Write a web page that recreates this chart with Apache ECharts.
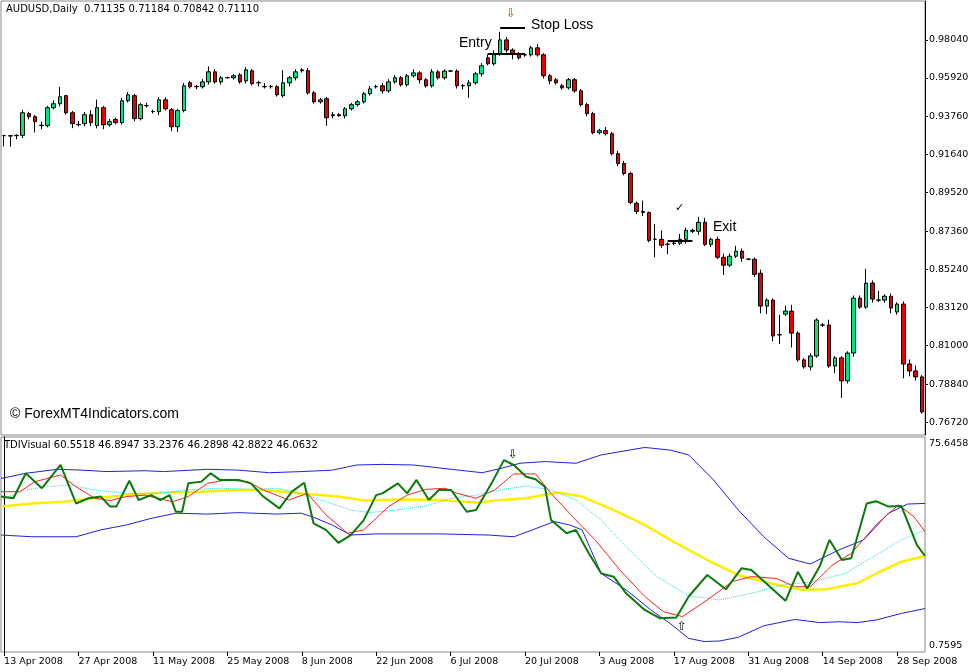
<!DOCTYPE html>
<html>
<head>
<meta charset="utf-8">
<script src="https://cdn.jsdelivr.net/npm/echarts@6/dist/echarts.min.js"></script>
<style>html,body{margin:0;padding:0;background:#fff}#chart{width:977px;height:672px}</style>
</head>
<body>
<div id="chart"></div>
<script>
// AUDUSD daily candles, 13 Apr 2008 .. 1 Oct 2008 (Sunday bars, no Saturday)
const opens = [
0.9270,0.9270,0.9270,0.9272,0.9393,0.9376,0.9328,0.9326,0.9426,0.9448,
0.9493,0.9398,0.9332,0.9337,0.9387,0.9326,0.9426,0.9331,0.9360,0.9343,
0.9465,0.9493,0.9365,0.9438,0.9405,0.9404,0.9470,0.9415,0.9320,0.9410,
0.9565,0.9544,0.9543,0.9570,0.9626,0.9570,0.9594,0.9593,0.9609,0.9576,
0.9632,0.9566,0.9544,0.9544,0.9543,0.9493,0.9565,0.9593,0.9632,0.9632,
0.9509,0.9459,0.9476,0.9381,0.9387,0.9381,0.9420,0.9443,0.9459,0.9504,
0.9544,0.9548,0.9520,0.9570,0.9593,0.9554,0.9604,0.9620,0.9582,0.9548,
0.9626,0.9593,0.9631,0.9630,0.9549,0.9548,0.9565,0.9615,0.9704,0.9671,
0.9726,0.9804,0.9748,0.9726,0.9720,0.9721,0.9760,0.9721,0.9604,0.9582,
0.9548,0.9537,0.9582,0.9520,0.9443,0.9393,0.9287,0.9298,0.9281,0.9170,
0.9115,0.9059,0.8893,0.8848,0.8842,0.8693,0.8692,0.8665,0.8671,0.8670,
0.8692,0.8742,0.8737,0.8787,0.8664,0.8692,0.8592,0.8548,0.8598,0.8626,
0.8582,0.8581,0.8503,0.8320,0.8353,0.8160,0.8275,0.8292,0.8169,0.8020,
0.7981,0.8042,0.8215,0.8214,0.7986,0.8031,0.7903,0.8058,0.8364,0.8314,
0.8448,0.8354,0.8353,0.8375,0.8287,0.8331,0.7997,0.7958,0.7925];
const closes = [
0.9270,0.9268,0.9272,0.9398,0.9376,0.9348,0.9326,0.9426,0.9448,0.9487,
0.9398,0.9337,0.9331,0.9387,0.9343,0.9426,0.9331,0.9348,0.9343,0.9465,
0.9498,0.9365,0.9443,0.9437,0.9404,0.9470,0.9420,0.9320,0.9410,0.9548,
0.9543,0.9543,0.9570,0.9626,0.9570,0.9593,0.9593,0.9604,0.9570,0.9637,
0.9560,0.9565,0.9543,0.9543,0.9498,0.9565,0.9593,0.9626,0.9637,0.9509,
0.9459,0.9470,0.9370,0.9387,0.9381,0.9420,0.9443,0.9459,0.9504,0.9531,
0.9543,0.9520,0.9570,0.9593,0.9554,0.9604,0.9620,0.9582,0.9548,0.9626,
0.9593,0.9630,0.9630,0.9548,0.9548,0.9565,0.9615,0.9660,0.9671,0.9726,
0.9804,0.9748,0.9726,0.9704,0.9721,0.9760,0.9721,0.9604,0.9576,0.9565,
0.9537,0.9582,0.9520,0.9443,0.9393,0.9287,0.9298,0.9281,0.9170,0.9115,
0.9059,0.8898,0.8848,0.8842,0.8686,0.8692,0.8659,0.8664,0.8670,0.8692,
0.8742,0.8737,0.8787,0.8664,0.8692,0.8592,0.8548,0.8598,0.8626,0.8587,
0.8581,0.8497,0.8320,0.8353,0.8153,0.8159,0.8292,0.8169,0.8020,0.7981,
0.8042,0.8242,0.8214,0.7986,0.8031,0.7903,0.8058,0.8364,0.8314,0.8448,
0.8359,0.8353,0.8375,0.8309,0.8331,0.7997,0.7958,0.7925,0.7730];
// wick lengths above / below the body, in pips
const wickUp = [
5,5,5,15,10,10,20,10,20,55, 5,10,20,15,25,45,10,15,10,15,
15,10,10,15,10,15,15,10,10,15, 10,10,15,30,15,10,5,10,10,15,
10,10,20,10,10,70,10,15,10,15, 10,10,10,15,10,10,10,10,10,15,
10,15,15,15,10,10,20,10,10,15, 10,10,5,10,10,15,10,15,20,20,
45,15,10,10,10,10,20,10,10,10, 10,10,10,10,10,10,10,20,10,15,
15,10,10,60,5,85,50,10,10,30, 15,10,30,25,10,15,20,15,30,15,
5,10,20,10,10,110,30,35,10,10, 15,10,10,30,10,10,10,15,15,80,
15,50,10,15,10,15,25,30,10];
const wickDn = [
60,60,20,15,15,60,20,10,10,15, 10,25,10,15,20,15,25,10,10,10,
10,15,10,10,10,20,10,25,30,10, 10,15,10,15,10,15,5,10,10,15,
10,20,10,10,10,10,20,15,10,10, 10,10,45,15,5,15,10,10,10,10,
10,15,10,10,10,10,10,20,10,10, 10,10,5,15,20,67,10,15,10,10,
10,15,30,10,10,10,10,15,20,10, 10,10,10,10,15,10,10,10,10,15,
10,10,15,20,10,100,15,55,10,10, 25,10,20,10,15,10,55,10,10,20,
5,15,40,45,30,50,10,80,10,10, 20,10,10,10,40,95,15,20,10,10,
20,10,15,30,15,80,30,20,10];
const priceTicks = [0.98040,0.95920,0.93760,0.91640,0.89520,0.87360,0.85240,0.83120,0.81000,0.78840,0.76720];

// TDI lines as [bar index, value]
const rsiGreen = [[-0.5,54.9],[1.5,54.3],[3.5,63.0],[6.1,57.8],[9.1,65.9],[11.6,52.5],[13.6,54.3],[15.6,54.9],[17.1,51.4],[18.1,51.4],[20.2,60.4],[21.7,53.7],[23.7,55.4],[25.2,53.7],[26.7,55.4],[27.7,49.6],[28.7,49.6],[29.7,59.5],[31.8,60.1],[33.3,63.0],[34.8,60.7],[37.8,60.7],[39.8,59.5],[41.8,54.9],[44.4,50.8],[46.4,56.6],[48.4,59.7],[49.9,45.6],[51.9,43.3],[53.9,38.8],[55.9,41.5],[58.0,46.7],[60.0,55.4],[61.0,56.0],[63.5,59.5],[65.0,56.0],[66.5,60.7],[68.5,53.7],[70.1,57.2],[72.1,57.2],[74.6,49.6],[76.1,50.2],[78.6,59.5],[80.6,67.6],[82.2,65.9],[84.2,61.8],[85.7,60.9],[87.2,58.3],[88.2,46.7],[90.7,42.1],[92.2,43.3],[94.3,35.1],[96.3,28.1],[98.3,27.0],[100.3,21.2],[103.3,15.4],[105.8,12.5],[108.4,12.8],[110.4,20.1],[113.4,27.6],[116.4,22.6],[118.9,29.9],[120.5,29.3],[123.5,23.5],[126.0,18.6],[128.0,28.7],[129.5,22.9],[131.5,30.5],[133.1,39.8],[135.1,32.8],[136.6,33.4],[139.1,52.5],[140.6,53.3],[142.6,51.4],[144.7,51.6],[147.2,38.0],[148.5,34.2]];
const signalRed = [[-0.5,56.6],[2.5,56.6],[5.0,60.1],[9.1,62.4],[11.6,58.3],[14.6,54.3],[17.1,53.5],[19.7,54.9],[22.7,55.4],[24.7,54.3],[27.2,53.1],[29.7,54.9],[32.8,59.5],[35.8,60.7],[39.3,60.1],[41.8,57.2],[45.9,53.7],[48.9,56.0],[51.9,48.5],[55.4,42.1],[58.0,43.3],[62.0,51.4],[65.0,55.4],[68.0,57.4],[71.1,57.8],[73.1,56.0],[76.1,54.3],[79.1,57.2],[82.2,62.8],[85.7,62.8],[88.2,56.0],[92.2,46.7],[95.3,39.8],[99.3,29.3],[103.3,20.1],[106.3,14.8],[109.4,13.1],[113.4,18.9],[117.4,25.3],[120.5,27.0],[124.5,26.4],[127.5,23.5],[130.0,23.5],[133.6,31.1],[136.6,35.1],[140.6,45.0],[144.2,52.0],[146.7,47.9],[148.5,42.7]];
const signalCyan = [[-0.5,53.7],[3.5,57.2],[6.6,58.3],[10.6,58.9],[14.6,57.2],[19.7,56.0],[24.7,56.0],[29.7,57.2],[34.8,57.8],[39.8,57.4],[43.9,57.8],[47.9,56.0],[51.9,53.1],[55.9,50.2],[59.0,49.3],[63.0,50.2],[68.0,51.6],[72.1,54.3],[76.1,55.4],[80.1,57.2],[84.2,58.6],[88.2,57.2],[92.2,53.7],[96.3,46.7],[100.3,37.4],[105.3,27.0],[110.4,20.3],[115.4,18.9],[120.5,21.2],[125.5,24.1],[130.5,25.3],[135.6,28.1],[140.6,34.5],[144.7,39.8],[148.5,43.3]];
const baseYellow = [[-0.5,51.4],[4.5,52.5],[9.6,53.1],[14.6,54.3],[19.7,55.4],[25.7,56.3],[31.8,56.6],[37.8,57.2],[41.8,57.2],[47.9,56.0],[53.9,54.9],[58.0,53.5],[64.0,53.9],[70.1,53.7],[76.1,52.8],[80.1,53.7],[84.2,54.3],[89.2,56.3],[93.2,54.9],[98.3,50.2],[103.3,45.0],[108.4,38.6],[113.4,32.8],[118.4,27.6],[123.5,24.7],[128.5,22.4],[132.6,22.6],[137.6,24.7],[140.6,28.1],[144.7,32.2],[148.5,34.2]];
const bandUp = [[-0.5,61.2],[3.5,63.0],[8.6,64.4],[12.6,64.1],[16.6,63.6],[22.7,63.9],[25.7,63.6],[32.8,64.4],[37.8,64.1],[42.8,63.2],[47.9,63.6],[52.9,64.1],[56.9,65.9],[61.0,66.1],[66.0,65.9],[72.1,64.4],[77.1,63.2],[80.1,64.7],[83.2,66.5],[87.2,67.1],[92.2,66.5],[96.3,69.4],[100.3,70.9],[103.3,72.0],[107.4,71.1],[110.4,69.4],[114.4,60.7],[118.4,50.2],[122.5,40.9],[126.5,33.4],[130.0,31.4],[134.6,36.3],[138.6,39.8],[142.6,49.1],[145.7,52.3],[148.5,52.5]];
const bandDn = [[-0.5,41.5],[4.5,40.9],[11.6,40.9],[15.6,43.3],[19.7,45.0],[23.7,47.3],[27.7,49.1],[32.8,48.8],[37.8,49.3],[43.9,48.8],[47.9,49.1],[49.9,47.7],[52.9,45.0],[55.9,41.5],[60.0,41.9],[70.1,41.9],[78.1,41.5],[82.2,40.9],[85.2,43.3],[88.7,46.2],[91.2,45.0],[93.2,43.3],[96.3,28.1],[100.3,22.4],[104.3,15.4],[107.4,10.7],[110.4,5.5],[112.9,4.4],[115.4,4.6],[118.4,5.9],[122.5,9.9],[127.5,12.1],[131.5,11.0],[134.6,11.3],[137.6,11.0],[140.6,11.9],[144.7,14.2],[148.5,15.9]];

// dates: Sun..Fri bars
const MON = ['Jan','Feb','Mar','Apr','May','Jun','Jul','Aug','Sep','Oct','Nov','Dec'];
const dates = [];
let d = new Date(Date.UTC(2008, 3, 13));
while (dates.length < closes.length) {
  if (d.getUTCDay() !== 6) dates.push(d.getUTCDate() + ' ' + MON[d.getUTCMonth()] + ' ' + d.getUTCFullYear());
  d = new Date(d.getTime() + 86400000);
}
const dateTicks = [];
for (let i = 0; i < dates.length; i += 12) dateTicks.push(i);

const candles = opens.map((o, i) => {
  const c = closes[i];
  return [o, c, Math.min(o, c) - wickDn[i] / 10000, Math.max(o, c) + wickUp[i] / 10000];
});

const FONT = 'DejaVu Sans';
const line = (data, color, width, type) => ({
  type: 'line', xAxisIndex: 1, yAxisIndex: 1, data: data, symbol: 'none', silent: true,
  lineStyle: {color: color, width: width, type: type || 'solid'}
});
const mk = (a, b, p) => [{coord: [a, p]}, {coord: [b, p]}];

const chart = echarts.init(document.getElementById('chart'));
chart.setOption({
  animation: false,
  backgroundColor: '#fff',
  grid: [
    {left: 1, top: 1, width: 924, height: 434, show: true, borderColor: '#888', borderWidth: 1},
    {left: 1, top: 437, width: 924, height: 215, show: true, borderColor: '#888', borderWidth: 1}
  ],
  xAxis: [
    {type: 'category', gridIndex: 0, data: dates, boundaryGap: true,
     axisLine: {show: false}, axisTick: {show: false}, axisLabel: {show: false}, splitLine: {show: false}},
    {type: 'value', gridIndex: 1, min: -0.5, max: 148.5,
     axisLine: {show: false}, splitLine: {show: false},
     axisTick: {show: true, customValues: dateTicks, length: 4, lineStyle: {color: '#000'}},
     axisLabel: {customValues: dateTicks, formatter: v => dates[Math.round(v)] || '',
       fontFamily: FONT, fontSize: 9.5, color: '#000', align: 'left', margin: 5}}
  ],
  yAxis: [
    {type: 'value', gridIndex: 0, position: 'right', min: 0.7601, max: 1.0021, scale: true,
     axisLine: {show: true, lineStyle: {color: '#000'}}, splitLine: {show: false},
     axisTick: {show: true, customValues: priceTicks, length: 3, inside: false, lineStyle: {color: '#000'}},
     axisLabel: {customValues: priceTicks, formatter: v => v.toFixed(5), fontFamily: FONT, fontSize: 9.5, color: '#000', margin: 4}},
    {type: 'value', gridIndex: 1, position: 'right', min: 0.7595, max: 75.6458,
     axisLine: {show: true, lineStyle: {color: '#000'}}, splitLine: {show: false}, axisTick: {show: false},
     axisLabel: {customValues: [75.6458, 0.7595],
       formatter: v => v < 1 ? '{b|0.7595}' : '{t|75.6458}',
       rich: {t: {padding: [14, 0, 0, 0], fontFamily: FONT, fontSize: 9.5, color: '#000'},
              b: {padding: [0, 0, 12, 0], fontFamily: FONT, fontSize: 9.5, color: '#000'}},
       margin: 4}}
  ],
  series: [
    {type: 'candlestick', xAxisIndex: 0, yAxisIndex: 0, data: candles, barWidth: 4, silent: true,
     itemStyle: {color: '#00e676', color0: '#e60000', borderColor: '#000', borderColor0: '#000', borderWidth: 1},
     markLine: {symbol: 'none', silent: true, label: {show: false},
       lineStyle: {color: '#000', width: 2, type: 'solid'},
       data: [mk(78, 84, 0.9726), mk(80, 84, 0.9871), mk(107, 111, 0.8686)]}},
    line(bandUp, '#2020e0', 1),
    line(bandDn, '#2020e0', 1),
    line(baseYellow, '#ffee00', 2.5),
    line(signalCyan, '#22dddd', 1, 'dotted'),
    line(signalRed, '#ff2020', 1),
    line(rsiGreen, '#0a7a0a', 2)
  ],
  graphic: [
    {type: 'text', left: 6, top: 4, style: {text: 'AUDUSD,Daily  0.71135 0.71184 0.70842 0.71110', font: '10px DejaVu Sans', fill: '#000'}},
    {type: 'text', left: 4, top: 440, style: {text: 'TDIVisual 60.5518 46.8947 33.2376 46.2898 42.8822 46.0632', font: '10px DejaVu Sans', fill: '#000'}},
    {type: 'text', left: 10, top: 407, style: {text: '© ForexMT4Indicators.com', font: '14px Liberation Sans', fill: '#000'}},
    {type: 'text', left: 459, top: 36, style: {text: 'Entry', font: '14px Liberation Sans', fill: '#000'}},
    {type: 'text', left: 531, top: 18, style: {text: 'Stop Loss', font: '14px Liberation Sans', fill: '#000'}},
    {type: 'text', left: 713, top: 220, style: {text: 'Exit', font: '14px Liberation Sans', fill: '#000'}},
    {type: 'text', left: 675, top: 203, style: {text: '✓', font: '11px DejaVu Sans', fill: '#000'}},
    {type: 'text', left: 506, top: 8, style: {text: '⇩', font: '12px DejaVu Sans', fill: '#a05000'}},
    {type: 'text', left: 508, top: 449, style: {text: '⇩', font: '12px DejaVu Sans', fill: '#000'}},
    {type: 'text', left: 677, top: 621, style: {text: '⇧', font: '12px DejaVu Sans', fill: '#000'}}
  ]
});
</script>
</body>
</html>
